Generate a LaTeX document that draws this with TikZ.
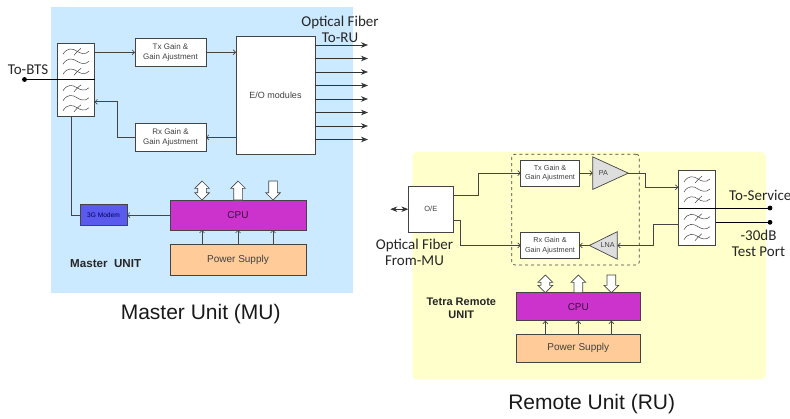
\documentclass[tikz,border=0pt]{standalone}
\usepackage{fontspec}
\usepackage{xcolor}
\usetikzlibrary{arrows.meta}
\usetikzlibrary{calc}
\usetikzlibrary{positioning}
\usetikzlibrary{shapes.geometric,shapes.arrows}
\setmainfont{Liberation Sans}
\newfontfamily\calfont{Carlito}
\definecolor{mubg}{HTML}{CCEAFF}
\definecolor{rubg}{HTML}{FFFFCC}
\definecolor{cpufill}{HTML}{CC33CC}
\definecolor{powfill}{HTML}{FFCC99}
\definecolor{modfill}{HTML}{5A5AEE}
\definecolor{linegray}{HTML}{444444}
\tikzset{
	pics/wavebank/.style={code={
		\draw[linegray,line width=0.5pt] (-13,-7) .. controls (-9,-14) and (-3,-13) .. (1,-10) .. controls (4,-8) and (9,-6) .. (13,-10);
		\draw[linegray,line width=0.5pt] (-13,3) .. controls (-9,-4) and (-3,-3) .. (1,0) .. controls (4,2) and (9,4) .. (13,0);
		\draw[linegray,line width=0.5pt] (-13,13) .. controls (-9,6) and (-3,7) .. (1,10) .. controls (4,12) and (9,14) .. (13,10);
		\draw[linegray,line width=0.5pt] (-2,-6) .. controls (0,-8) and (2,-11) .. (5,-13);
		\draw[linegray,line width=0.5pt] (-2,14) .. controls (0,12) and (2,9) .. (5,7);
	}}
}
\begin{document}
\begin{tikzpicture}[x=1pt,y=-1pt,>={Straight Barb[length=2.5pt,width=5pt]},line width=0.7pt,draw=linegray]
	\tikzstyle{box}=[draw, rectangle, fill=white, inner sep=0pt, outer sep=0pt, align=center, text=black!75]
	\tikzstyle{flt}=[box, minimum width=37pt, minimum height=36.5pt]
	\tikzstyle{gainm}=[box, minimum width=71pt, minimum height=28.5pt, font=\fontsize{8}{10}\selectfont]
	\tikzstyle{gainr}=[box, minimum width=58.6pt, minimum height=26.3pt, font=\fontsize{7.3}{9.5}\selectfont]
	\tikzstyle{cpubox}=[box, fill=cpufill, text=black!70!cpufill, font=\fontsize{10}{12}\selectfont]
	\tikzstyle{powbox}=[box, fill=powfill, font=\fontsize{10}{12}\selectfont]
	\tikzstyle{amp}=[draw, isosceles triangle, isosceles triangle stretches, fill=black!13, inner sep=0pt, outer sep=0pt, text=black!75, font=\fontsize{7.2}{9}\selectfont]
	\tikzstyle{dot}=[draw=black, circle, fill=black, inner sep=0pt, outer sep=0pt, minimum size=4pt]
	\tikzstyle{fat}=[>={Stealth[length=7pt,width=5.5pt]}, black!80]
	\tikzstyle{bar}=[draw=linegray, fill=white, inner sep=4pt, outer sep=0pt, minimum height=19pt]
	\tikzstyle{barup}=[bar, single arrow, shape border rotate=90, single arrow head extend=3pt]
	\tikzstyle{bardn}=[bar, single arrow, shape border rotate=270, single arrow head extend=3pt]
	\tikzstyle{barud}=[bar, double arrow, shape border rotate=90, double arrow head extend=3pt]
	\tikzstyle{tag}=[inner sep=0pt, align=center, text=black!85, font=\calfont\fontsize{15}{16}\selectfont]
	\tikzstyle{unit}=[inner sep=0pt, align=center, text=black!85, font=\bfseries\fontsize{11}{13.3}\selectfont]
	\tikzstyle{title}=[inner sep=0pt, text=black!90, font=\fontsize{21}{24}\selectfont]

	\useasboundingbox (0,0) rectangle (790,418);

	% master unit
	\node[fill=mubg, minimum width=302pt, minimum height=286pt, inner sep=0pt] (mbg) at (202,150) {};
	\node[flt] (mf1) at (76,61.25) {};
	\node[flt] (mf2) [below=0pt of mf1] {};
	\pic at (mf1) {wavebank};
	\pic at (mf2) {wavebank};
	\node[gainm] (mtx) [right=40.5pt of mf1, yshift=9pt] {Tx Gain \&\\Gain Ajustment};
	\node[gainm] (mrx) [below=56.5pt of mtx] {Rx Gain \&\\Gain Ajustment};
	\node[box, minimum width=79pt, minimum height=117.5pt, font=\fontsize{9}{11}\selectfont] (meo) [right=30pt of mtx, yshift=-43pt] {E/O modules};
	\node[box, fill=modfill, minimum width=47pt, minimum height=21.5pt, text=black!65!blue, font=\fontsize{6.6}{8}\selectfont] (mmod) at (103.5,215) {3G Modem};
	\node[cpubox, minimum width=136pt, minimum height=30pt] (mcpu) [right=43pt of mmod] {CPU};
	\node[powbox, minimum width=136pt, minimum height=31pt] (mpow) [below=14pt of mcpu] {Power Supply};
	\node[barud] (mb1) [above=0pt of mcpu, xshift=-36pt] {};
	\node[barup] (mb2) [above=0pt of mcpu] {};
	\node[bardn] (mb3) [above=0pt of mcpu, xshift=35pt] {};
	\node[dot] (mbts) at (24.5,79.5) {};
	\node[tag] (lbts) at (28,70) {To-BTS};
	\node[tag] (lmof) at (340,29) {Optical Fiber\\To-RU};
	\node[unit, font=\bfseries\fontsize{11.6}{13.3}\selectfont] (lmu) at (105.7,264) {Master~~UNIT};
	\node[title] (lmt) at (200.7,314) {Master Unit (MU)};

	\coordinate (o1) at (368,45);
	\coordinate (o2) at ([yshift=-13.5pt]o1);
	\coordinate (o3) at ([yshift=-13.5pt]o2);
	\coordinate (o4) at ([yshift=-13.5pt]o3);
	\coordinate (o5) at ([yshift=-13.5pt]o4);
	\coordinate (o6) at ([yshift=-13.5pt]o5);
	\coordinate (o7) at ([yshift=-13.5pt]o6);
	\coordinate (o8) at ([yshift=-13.5pt]o7);

	\draw[black] (mbts) -- (mf1.south east);
	\draw[->] (mf1.east |- mtx.west) -- (mtx.west);
	\draw[->] (mtx.east) -- (meo.west |- mtx.east);
	\draw[->] (meo.west |- mrx.east) -- (mrx.east);
	\draw[->] (mrx.west) -- ++(-18,0) |- ([yshift=-4pt]mf2.east);
	\draw ([xshift=-4.5pt]mf2.south) |- (mmod.west);
	\draw[->] (mcpu.west) -- (mmod.east);
	\draw[->] (mb1 |- mpow.north) -- (mb1 |- mcpu.south);
	\draw[->] (mb2 |- mpow.north) -- (mb2 |- mcpu.south);
	\draw[->] (mb3 |- mpow.north) -- (mb3 |- mcpu.south);
	\path[fat,->]
		(meo.east |- o1) edge (o1)
		(meo.east |- o2) edge (o2)
		(meo.east |- o3) edge (o3)
		(meo.east |- o4) edge (o4)
		(meo.east |- o5) edge (o5)
		(meo.east |- o6) edge (o6)
		(meo.east |- o7) edge (o7)
		(meo.east |- o8) edge (o8);

	% remote unit
	\node[fill=rubg, rounded corners=5pt, minimum width=353.5pt, minimum height=227.5pt, inner sep=0pt] (rbg) at (589,265.7) {};
	\node[box, minimum width=45pt, minimum height=45.7pt, font=\fontsize{7.5}{9}\selectfont] (roe) at (430.8,209.2) {O/E};
	\node[draw, dashed, rounded corners=3pt, minimum width=127.6pt, minimum height=110.7pt, inner sep=0pt] (rdash) at (575.5,209.6) {};
	\node[gainr] (rtx) at (550,173.15) {Tx Gain \&\\Gain Ajustment};
	\node[gainr] (rrx) [below=46pt of rtx] {Rx Gain \&\\Gain Ajustment};
	\node[amp, minimum width=32.6pt, minimum height=35.6pt] (rpa) [right=13.4pt of rtx] {PA};
	\node[amp, shape border rotate=180, minimum width=27.6pt, minimum height=28pt] (rlna) [right=10pt of rrx] {LNA};
	\node[flt, minimum width=37.4pt, minimum height=38pt] (rf1) at (697,189) {};
	\node[flt, minimum width=37.4pt, minimum height=37.3pt] (rf2) [below=0pt of rf1] {};
	\pic at (rf1) {wavebank};
	\pic at (rf2) {wavebank};
	\node[cpubox, minimum width=124.7pt, minimum height=28pt] (rcpu) at (578.3,306.7) {CPU};
	\node[powbox, minimum width=124.7pt, minimum height=28pt] (rpow) [below=13.6pt of rcpu] {Power Supply};
	\node[barud, minimum height=17.7pt] (rb1) [above=0pt of rcpu, xshift=-33pt] {};
	\node[barup, minimum height=17.7pt] (rb2) [above=0pt of rcpu] {};
	\node[bardn, minimum height=17.7pt] (rb3) [above=0pt of rcpu, xshift=33pt] {};
	\node[dot] (rsv) at (770,208) {};
	\node[dot] (rtp) [below=10.3pt of rsv] {};
	\coordinate (rfib) at ([xshift=-18pt]roe.west);
	\node[tag] (lrof) at (414.5,252) {Optical Fiber\\From-MU};
	\node[tag] (lsv) at (760.3,195.7) {To-Service};
	\node[tag] (ltp) at (758.5,243.7) {-30dB\\Test Port};
	\node[unit] (lru) at (461.3,308.3) {Tetra Remote\\UNIT};
	\node[title] (lrt) at (591.7,404) {Remote Unit (RU)};

	\draw[fat,<->] (rfib) -- (roe.west);
	\draw[->] ([yshift=13.5pt]roe.east) -- ++(25,0) |- (rtx.west);
	\draw[->] ([yshift=-11pt]roe.east) -- ++(7.4,0) |- (rrx.west);
	\draw[->] (rtx.east) -- (rpa.west);
	\draw[->] (rpa.apex) -- ++(17.3,0) |- ([yshift=1.7pt]rf1.west);
	\draw[->] ([yshift=2.3pt]rf2.west) -- ++(-24.6,0) |- (rlna.east);
	\draw[->] (rlna.apex) -- (rrx.east);
	\draw[black] (rf1.south west) -- (rsv);
	\draw[black] (rf2.east |- rtp) -- (rtp);
	\draw[->] (rb1 |- rpow.north) -- (rb1 |- rcpu.south);
	\draw[->] (rb2 |- rpow.north) -- (rb2 |- rcpu.south);
	\draw[->] (rb3 |- rpow.north) -- (rb3 |- rcpu.south);
\end{tikzpicture}
\end{document}
